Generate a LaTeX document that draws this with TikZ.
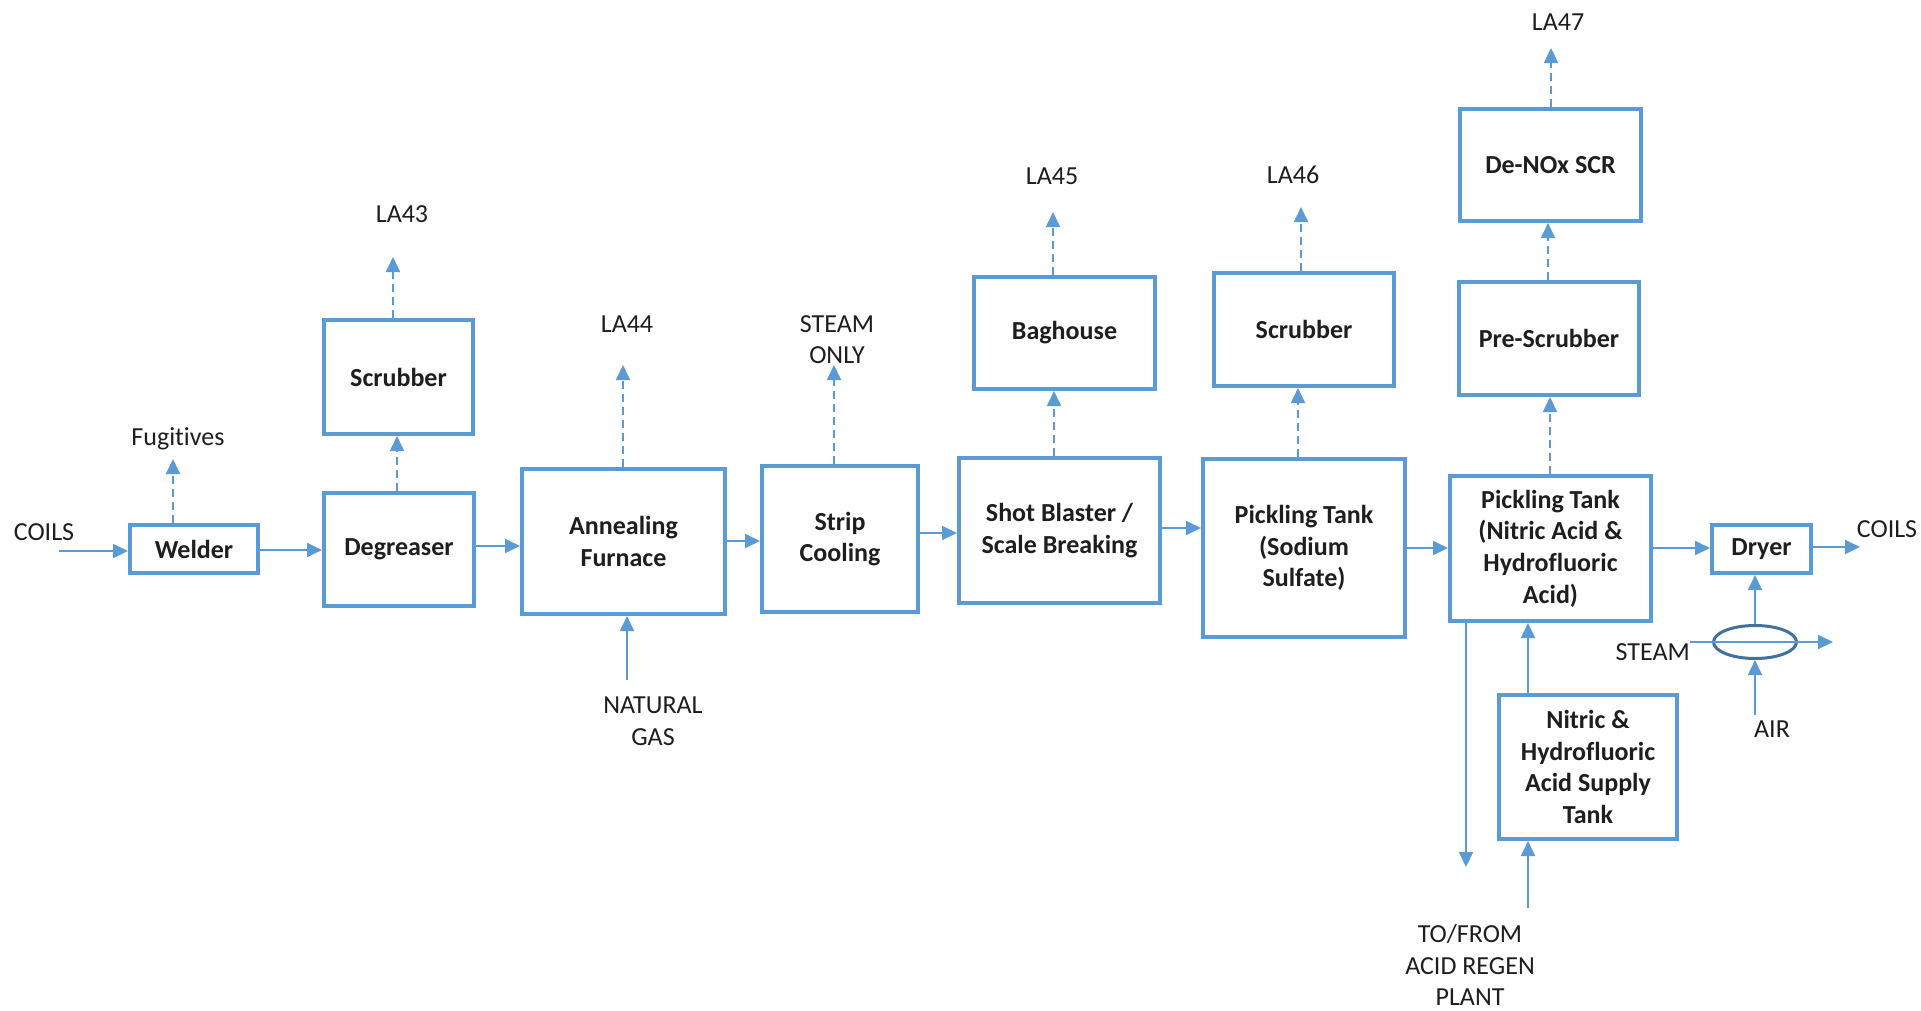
\documentclass[tikz,border=0pt]{standalone}
\usepackage{fontspec}
\setmainfont[Ligatures=NoCommon]{Carlito}
\usetikzlibrary{arrows.meta,shapes.geometric}
\definecolor{bl}{RGB}{91,155,213}
\definecolor{dbl}{RGB}{65,113,156}
\definecolor{tx}{RGB}{30,30,30}
\begin{document}
\begin{tikzpicture}[x=1pt,y=-1pt,
 box/.style={draw=bl,line width=4pt,fill=white,align=center,font=\bfseries\fontsize{26}{31.7}\selectfont,text=tx,inner sep=2pt},
 lbl/.style={align=center,font=\fontsize{26}{31.7}\selectfont,text=tx,inner sep=0pt},
 arr/.style={draw=bl,line width=1.8pt,-{Triangle[length=15pt,width=14pt]}},
 darr/.style={arr,dash pattern=on 8pt off 5pt}]
\fill[white] (0,0) rectangle (1921,1010);
\useasboundingbox (0,0) rectangle (1921,1010);
% boxes
\node[box,minimum width=128pt,minimum height=48pt] (welder) at (194,549) {Welder};
\node[box,minimum width=150pt,minimum height=113pt] (degreaser) at (399,549.5) {Degreaser};
\node[box,minimum width=149pt,minimum height=114pt] (scrubA) at (398.5,377) {Scrubber};
\node[box,minimum width=203pt,minimum height=145pt] (anneal) at (623.5,541.5) {Annealing\\Furnace};
\node[box,minimum width=156pt,minimum height=146pt] (strip) at (840,539) {Strip\\Cooling};
\node[box,minimum width=201pt,minimum height=145pt] (shot) at (1059.5,530.5) {Shot Blaster /\\Scale Breaking};
\node[box,minimum width=181pt,minimum height=112pt] (bag) at (1064.5,333) {Baghouse};
\node[box,minimum width=202pt,minimum height=178pt] (pickA) at (1304,548) {Pickling Tank\\(Sodium\\Sulfate)};
\node[box,minimum width=180pt,minimum height=113pt] (scrubB) at (1304,329.5) {Scrubber};
\node[box,minimum width=201pt,minimum height=145pt] (pickB) at (1550.5,548.5) {Pickling Tank\\(Nitric Acid \&\\Hydrofluoric\\Acid)};
\node[box,minimum width=180pt,minimum height=113pt] (pre) at (1549,338.5) {Pre-Scrubber};
\node[box,minimum width=181pt,minimum height=112pt] (denox) at (1550.5,165) {De-NOx SCR};
\node[box,minimum width=99pt,minimum height=48pt] (dryer) at (1761.5,549) {Dryer};
\node[box,minimum width=178pt,minimum height=144pt] (supply) at (1588,767) {Nitric \&\\Hydrofluoric\\Acid Supply\\Tank};
\node[draw=dbl,line width=3pt,ellipse,minimum width=83pt,minimum height=33pt,inner sep=0pt] (hx) at (1755,642) {};
% labels
\node[lbl] (coilsL) at (44,532) {COILS};
\node[lbl] (fug) at (178,439) {Fugitives};
\node[lbl] (la43) at (402,214) {LA43};
\node[lbl] (la44) at (627,324) {LA44};
\node[lbl] (steamonly) at (837,339.5) {STEAM\\ONLY};
\node[lbl] (la45) at (1052,176) {LA45};
\node[lbl] (la46) at (1293,175) {LA46};
\node[lbl] (la47) at (1558,22) {LA47};
\node[lbl] (ng) at (653,721) {NATURAL\\GAS};
\node[lbl] (regen) at (1470,965) {TO/FROM\\ACID REGEN\\PLANT};
\node[lbl,anchor=east] (steamL) at (1690,652) {STEAM};
\node[lbl] (air) at (1772,729) {AIR};
\node[lbl] (coilsR) at (1887,529) {COILS};
% free ends
\coordinate (cin) at (59,551);
\coordinate (cout) at (1860,547);
\coordinate (fugT) at (173,459);
\coordinate (la43T) at (393,257);
\coordinate (la44T) at (623,365);
\coordinate (soT) at (834,365);
\coordinate (la45T) at (1053,212);
\coordinate (la46T) at (1301,207);
\coordinate (la47T) at (1551,48);
\coordinate (ngS) at (627,680);
\coordinate (regenT) at (1466,867);
\coordinate (supS) at (1528,908);
\coordinate (airS) at (1755,715);
\coordinate (stS) at (1690,642);
\coordinate (stT) at (1833,642);
% main line
\draw[arr] (cin) -- (welder.west |- cin);
\draw[arr] (welder.east |- 0,550) -- (degreaser.west |- 0,550);
\draw[arr] (degreaser.east |- 0,546) -- (anneal.west |- 0,546);
\draw[arr] (anneal.east |- 0,541) -- (strip.west |- 0,541);
\draw[arr] (strip.east |- 0,533) -- (shot.west |- 0,533);
\draw[arr] (shot.east |- 0,528) -- (pickA.west |- 0,528);
\draw[arr] (pickA.east |- 0,548) -- (pickB.west |- 0,548);
\draw[arr] (pickB.east |- 0,548) -- (dryer.west |- 0,548);
\draw[arr] (dryer.east |- cout) -- (cout);
% emissions
\draw[darr] (welder.north -| fugT) -- (fugT);
\draw[darr] (degreaser.north -| 397,0) -- (scrubA.south -| 397,0);
\draw[darr] (scrubA.north -| la43T) -- (la43T);
\draw[darr] (anneal.north -| la44T) -- (la44T);
\draw[darr] (strip.north -| soT) -- (soT);
\draw[darr] (shot.north -| 1054,0) -- (bag.south -| 1054,0);
\draw[darr] (bag.north -| la45T) -- (la45T);
\draw[darr] (pickA.north -| 1298,0) -- (scrubB.south -| 1298,0);
\draw[darr] (scrubB.north -| la46T) -- (la46T);
\draw[darr] (pickB.north -| 1550,0) -- (pre.south -| 1550,0);
\draw[darr] (pre.north -| 1548,0) -- (denox.south -| 1548,0);
\draw[darr] (denox.north -| la47T) -- (la47T);
% other feeds
\draw[arr] (ngS) -- (anneal.south -| ngS);
\draw[arr] (supply.north -| 1528,0) -- (pickB.south -| 1528,0);
\draw[arr] (supS) -- (supply.south -| supS);
\draw[arr] (pickB.south -| regenT) -- (regenT);
\draw[arr] (hx.north) -- (dryer.south -| hx.north);
\draw[arr] (airS) -- (hx.south);
\draw[arr] (stS) -- (stT);
\end{tikzpicture}
\end{document}
